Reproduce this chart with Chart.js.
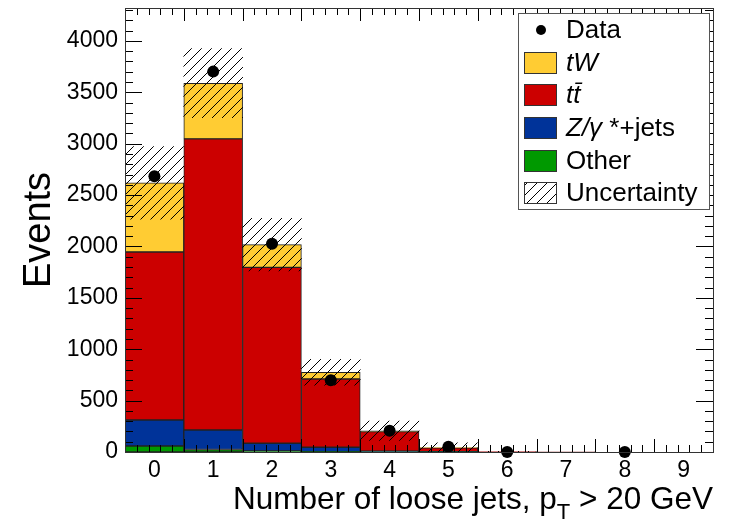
<!DOCTYPE html>
<html>
<head>
<meta charset="utf-8">
<script src="https://cdn.jsdelivr.net/npm/chart.js@4.4.0/dist/chart.umd.min.js"></script>
<style>
  html, body { margin: 0; padding: 0; background: #fff; }
</style>
</head>
<body>
<canvas id="c" width="729" height="525"></canvas>
<script>
// bins: number of loose jets
const bins = ["0", "1", "2", "3", "4", "5", "6", "7", "8", "9"];
// stacked MC, bottom to top
const other = [58, 24, 10, 3, 2, 1, 0, 0, 0, 0];
const zjets = [253, 190, 75, 43, 6, 2, 0, 0, 0, 0];
const ttbar = [1635, 2832, 1712, 664, 190, 38, 3, 0.5, 0, 0];
const tw = [672, 542, 221, 66, 8, 3, 0, 0, 0, 0];
// data and the total uncertainty (half width of the band)
const dataPts = [2683, 3701, 2027, 698, 207, 52, 0, null, 0, null];
const uncert = [353, 336, 256, 126, 94, 45, 3, 0, 0, 0];
const yTicks = [0, 500, 1000, 1500, 2000, 2500, 3000, 3500, 4000];

const FONT = '"Liberation Sans", Arial, Helvetica, sans-serif';
const colTW = "#ffcc33";
const colTT = "#cc0000";
const colZ = "#003399";
const colOther = "#009900";
const edge = "#222";

const total = bins.map((b, i) => other[i] + zjets[i] + ttbar[i] + tw[i]);
const band = total.map((t, i) => uncert[i] > 0 ? [Math.max(0, t - uncert[i]), t + uncert[i]] : null);

const ctx = document.getElementById("c").getContext("2d");

function hatchPattern() {
  const s = 10;
  const c = document.createElement("canvas");
  c.width = s; c.height = s;
  const g = c.getContext("2d");
  g.strokeStyle = "#000";
  g.lineWidth = 1;
  g.beginPath();
  g.moveTo(0, s); g.lineTo(s, 0);
  g.moveTo(-s / 2, s / 2); g.lineTo(s / 2, -s / 2);
  g.moveTo(s / 2, s * 1.5); g.lineTo(s * 1.5, s / 2);
  g.stroke();
  return ctx.createPattern(c, "repeat");
}
const hatch = hatchPattern();

// frame, inward ticks, titles
const framePlugin = {
  id: "frame",
  afterDatasetsDraw(chart) {
    const { ctx: g, chartArea: a, scales } = chart;
    const xs = scales.x, ys = scales.y;
    g.save();
    g.strokeStyle = "#000";
    g.lineWidth = 1;
    g.beginPath();
    // y ticks, both sides
    for (let v = 0; v <= ys.max; v += 100) {
      const y = Math.round(ys.getPixelForValue(v)) + 0.5;
      const len = v % 500 === 0 ? 17 : 8;
      g.moveTo(a.left, y); g.lineTo(a.left + len, y);
      g.moveTo(a.right, y); g.lineTo(a.right - len, y);
    }
    // x ticks: major at bin edges, minor every 0.2 bin
    const w = xs.getPixelForValue(1) - xs.getPixelForValue(0);
    for (let k = 0; k <= bins.length * 5; k++) {
      const x = Math.round(xs.getPixelForValue(0) - w / 2 + k * w / 5) + 0.5;
      const len = k % 5 === 0 ? 13 : 7;
      g.moveTo(x, a.bottom); g.lineTo(x, a.bottom - len);
      g.moveTo(x, a.top); g.lineTo(x, a.top + len);
    }
    g.stroke();
    g.strokeStyle = "#333";
    g.strokeRect(Math.round(a.left) + 0.5, Math.round(a.top) + 0.5,
      Math.round(a.right - a.left), Math.round(a.bottom - a.top));
    g.restore();
  },
  afterDraw(chart) {
    const g = chart.ctx;
    g.save();
    g.fillStyle = "#000";
    // y title
    g.translate(40, 230);
    g.rotate(-Math.PI / 2);
    g.font = "38px " + FONT;
    g.textAlign = "center";
    g.textBaseline = "middle";
    g.fillText("Events", 0, 0);
    g.restore();

    // x title with subscript
    g.save();
    g.fillStyle = "#000";
    g.textBaseline = "alphabetic";
    g.textAlign = "left";
    const big = "31.5px " + FONT, small = "22px " + FONT;
    const p1 = "Number of loose jets, p", sub = "T", p2 = " > 20 GeV";
    g.font = big; const w1 = g.measureText(p1).width, w3 = g.measureText(p2).width;
    g.font = small; const w2 = g.measureText(sub).width;
    let x = 713 - (w1 + w2 + w3);
    const yb = 509;
    g.font = big; g.fillText(p1, x, yb); x += w1;
    g.font = small; g.fillText(sub, x, yb + 10); x += w2;
    g.font = big; g.fillText(p2, x, yb);
    g.restore();

    // legend
    g.save();
    const L = 518, T = 13, R = 709, B = 209;
    g.fillStyle = "#fff";
    g.fillRect(L, T, R - L, B - T);
    g.strokeStyle = "#555";
    g.lineWidth = 1;
    g.strokeRect(L + 0.5, T + 0.5, R - L, B - T);
    const rows = [
      { y: 30, kind: "dot", parts: [["Data", false]] },
      { y: 63, kind: "box", fill: colTW, parts: [["tW", true]] },
      { y: 95, kind: "box", fill: colTT, parts: [["tt\u0304", true]] },
      { y: 128, kind: "box", fill: colZ, parts: [["Z/\u03b3", true], [" *+jets", false]] },
      { y: 161, kind: "box", fill: colOther, parts: [["Other", false]] },
      { y: 193, kind: "box", fill: hatch, parts: [["Uncertainty", false]] }
    ];
    g.textBaseline = "middle";
    rows.forEach(r => {
      if (r.kind === "dot") {
        g.fillStyle = "#000";
        g.beginPath(); g.arc(541, r.y, 5, 0, Math.PI * 2); g.fill();
      } else {
        g.fillStyle = r.fill;
        g.fillRect(524, r.y - 11, 33, 22);
        g.strokeStyle = "#333";
        g.strokeRect(524.5, r.y - 10.5, 32, 21);
      }
      let x = 566;
      g.fillStyle = "#000";
      r.parts.forEach(([t, it]) => {
        g.font = (it ? "italic " : "") + "26px " + FONT;
        g.fillText(t, x, r.y + 1);
        x += g.measureText(t).width;
      });
    });
    g.restore();
  }
};

const mcBar = (label, values, color) => ({
  type: "bar",
  label: label,
  data: values,
  backgroundColor: color,
  borderColor: edge,
  borderWidth: 1,
  borderSkipped: false,
  stack: "mc",
  order: 2
});

new Chart(ctx, {
  type: "bar",
  data: {
    labels: bins,
    datasets: [
      {
        type: "line",
        label: "Data",
        data: dataPts,
        showLine: false,
        pointRadius: 6,
        pointHoverRadius: 6,
        pointBackgroundColor: "#000",
        pointBorderWidth: 0,
        clip: false,
        order: 0
      },
      {
        type: "bar",
        label: "Uncertainty",
        data: band,
        backgroundColor: hatch,
        borderWidth: 0,
        stack: "unc",
        grouped: false,
        order: 1
      },
      mcBar("Other", other, colOther),
      mcBar("Z/gamma*+jets", zjets, colZ),
      mcBar("ttbar", ttbar, colTT),
      mcBar("tW", tw, colTW)
    ]
  },
  options: {
    responsive: false,
    animation: false,
    events: [],
    barPercentage: 1,
    categoryPercentage: 1,
    layout: { padding: { left: 0, right: 16, top: 8, bottom: 0 } },
    plugins: { legend: { display: false }, tooltip: { enabled: false } },
    scales: {
      x: {
        stacked: true,
        grid: { display: false, drawTicks: false },
        border: { display: false },
        ticks: { color: "#000", font: { family: FONT, size: 23 }, padding: 5, maxRotation: 0 },
        afterFit(s) { s.height = 73; s.paddingLeft = 0; s.paddingRight = 0; }
      },
      y: {
        stacked: true,
        min: 0,
        max: 4320,
        grid: { display: false, drawTicks: false },
        border: { display: false },
        afterBuildTicks(s) { s.ticks = yTicks.map(v => ({ value: v })); },
        ticks: {
          color: "#000",
          font: { family: FONT, size: 23 },
          padding: 7,
          callback: v => String(v)
        },
        afterFit(s) { s.width = 125; s.paddingTop = 0; s.paddingBottom = 0; }
      }
    }
  },
  plugins: [framePlugin]
});
</script>
</body>
</html>
